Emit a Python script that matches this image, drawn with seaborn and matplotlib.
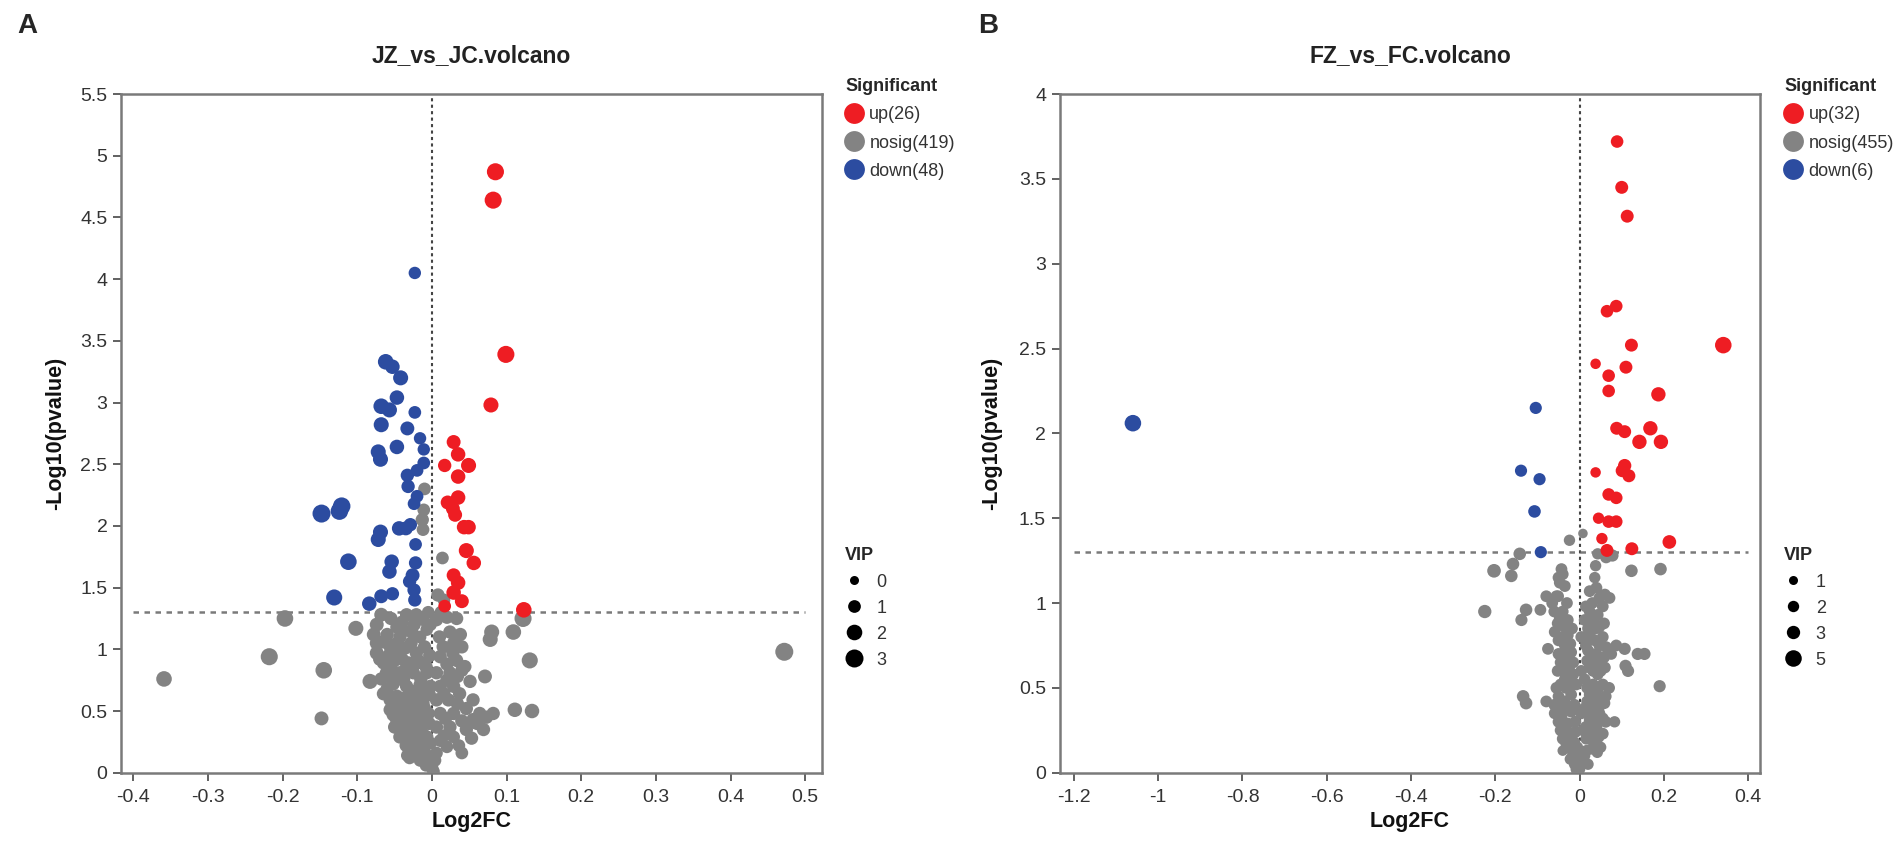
import numpy as np
import pandas as pd
import matplotlib
matplotlib.use("Agg")
import matplotlib.pyplot as plt
from matplotlib.lines import Line2D
from matplotlib.ticker import FuncFormatter
import seaborn as sns

sns.set_theme(style="white")
plt.rcParams["font.family"] = ["Liberation Sans", "DejaVu Sans"]

RED = "#EE1D23"
GREY = "#838383"
BLUE = "#2C4CA0"

# ---------------- panel A : JZ_vs_JC  (log2FC, -log10 p, VIP) ----------------
a_up = [
    (0.085, 4.87, 2.6), (0.082, 4.64, 2.6), (0.099, 3.39, 2.6), (0.079, 2.98, 1.8),
    (0.029, 2.68, 1.4), (0.035, 2.58, 1.6), (0.017, 2.49, 1.2), (0.049, 2.49, 1.8),
    (0.035, 2.40, 1.6), (0.035, 2.23, 1.6), (0.021, 2.19, 1.4), (0.028, 2.14, 1.4),
    (0.031, 2.09, 1.4), (0.043, 1.99, 1.6), (0.049, 1.99, 1.6), (0.046, 1.80, 1.8),
    (0.056, 1.70, 1.6), (0.029, 1.60, 1.4), (0.035, 1.54, 1.6), (0.029, 1.46, 1.6),
    (0.040, 1.39, 1.4), (0.017, 1.35, 1.0), (0.123, 1.32, 2.0),
]
a_down = [
    (-0.023, 4.05, 0.9), (-0.062, 3.33, 2.0), (-0.053, 3.29, 1.6), (-0.042, 3.20, 1.8),
    (-0.047, 3.04, 1.6), (-0.068, 2.97, 2.0), (-0.057, 2.94, 1.8), (-0.023, 2.92, 1.0),
    (-0.068, 2.82, 1.8), (-0.033, 2.79, 1.4), (-0.016, 2.71, 0.9), (-0.047, 2.64, 1.6),
    (-0.011, 2.62, 0.9), (-0.072, 2.60, 1.8), (-0.069, 2.54, 1.8), (-0.011, 2.51, 1.0),
    (-0.020, 2.45, 1.0), (-0.033, 2.41, 1.2), (-0.032, 2.32, 1.2), (-0.020, 2.24, 1.0),
    (-0.024, 2.18, 1.0), (-0.148, 2.10, 3.0), (-0.121, 2.16, 2.8), (-0.124, 2.12, 2.8),
    (-0.044, 1.98, 1.6), (-0.035, 1.98, 1.4), (-0.029, 2.01, 1.2), (-0.069, 1.95, 1.8),
    (-0.072, 1.89, 1.8), (-0.022, 1.85, 1.0), (-0.112, 1.71, 2.4), (-0.054, 1.71, 1.6),
    (-0.057, 1.63, 1.6), (-0.022, 1.70, 1.2), (-0.026, 1.60, 1.4), (-0.131, 1.42, 2.2),
    (-0.068, 1.43, 1.4), (-0.053, 1.45, 1.2), (-0.084, 1.37, 1.6), (-0.024, 1.48, 1.2),
    (-0.023, 1.40, 1.2), (-0.030, 1.55, 1.2),
]
a_nosig = [
    # scattered points
    (-0.359, 0.76, 2.0), (-0.218, 0.94, 2.6), (-0.197, 1.25, 2.4), (-0.148, 0.44, 1.4),
    (-0.145, 0.83, 2.4), (-0.102, 1.17, 1.8), (-0.083, 0.74, 1.8), (0.472, 0.98, 3.5),
    (0.122, 1.25, 2.6), (0.109, 1.14, 2.0), (0.080, 1.14, 1.8), (0.078, 1.08, 1.8),
    (0.131, 0.91, 2.2), (0.071, 0.78, 1.4), (0.111, 0.51, 1.6), (0.134, 0.50, 1.6),
    (-0.010, 2.30, 1.0), (-0.011, 2.13, 1.0), (-0.013, 2.05, 1.2), (-0.012, 1.97, 1.0),
    (0.014, 1.74, 1.0), (0.008, 1.44, 1.2), (0.016, 1.40, 1.0), (-0.033, 0.14, 1.0),
    (0.040, 0.16, 1.0),
    # main cloud, left of zero
    (-0.074, 1.20, 1.4), (-0.047, 1.18, 1.2), (-0.034, 1.28, 1.2), (-0.021, 1.28, 1.2),
    (-0.012, 1.24, 1.0), (-0.027, 1.14, 1.2), (-0.043, 1.10, 1.2), (-0.016, 1.10, 1.0),
    (-0.007, 1.16, 1.0), (-0.074, 1.05, 1.4), (-0.056, 1.02, 1.2), (-0.036, 1.01, 1.2),
    (-0.021, 0.97, 1.2), (-0.074, 0.97, 1.4), (-0.065, 0.89, 1.2), (-0.050, 0.91, 1.2),
    (-0.032, 0.89, 1.2), (-0.014, 0.89, 1.2), (-0.061, 0.81, 1.2), (-0.043, 0.81, 1.2),
    (-0.025, 0.81, 1.2), (-0.007, 0.81, 1.2), (-0.052, 0.72, 1.2), (-0.034, 0.70, 1.2),
    (-0.016, 0.71, 1.2), (-0.065, 0.64, 1.2), (-0.047, 0.62, 1.2), (-0.027, 0.59, 1.2),
    (-0.009, 0.62, 1.2), (-0.056, 0.51, 1.2), (-0.038, 0.48, 1.2), (-0.021, 0.51, 1.2),
    (-0.005, 0.48, 1.2), (-0.050, 0.37, 1.2), (-0.032, 0.35, 1.2), (-0.014, 0.37, 1.2),
    (-0.043, 0.29, 1.2), (-0.025, 0.26, 1.2), (-0.007, 0.29, 1.2), (-0.023, 0.18, 1.0),
    (-0.009, 0.16, 1.0), (-0.016, 0.10, 1.0), (-0.003, 0.08, 1.0), (0.000, 0.04, 1.0),
    (0.002, 0.01, 1.0), (-0.060, 1.12, 1.2), (-0.040, 1.22, 1.2), (-0.005, 1.30, 1.0),
    (-0.028, 1.05, 1.2), (-0.010, 1.02, 1.2), (-0.045, 0.96, 1.2), (-0.020, 0.92, 1.2),
    (-0.055, 0.86, 1.2), (-0.035, 0.84, 1.2), (-0.015, 0.76, 1.2), (-0.045, 0.76, 1.2),
    (-0.060, 0.68, 1.2), (-0.030, 0.65, 1.2), (-0.012, 0.56, 1.2), (-0.045, 0.55, 1.2),
    (-0.030, 0.42, 1.2), (-0.015, 0.44, 1.2), (-0.048, 0.44, 1.2), (-0.035, 0.22, 1.0),
    (-0.012, 0.22, 1.0), (-0.030, 0.12, 1.0), (-0.006, 0.12, 1.0), (-0.020, 0.32, 1.2),
    (-0.040, 0.60, 1.2), (-0.002, 0.70, 1.2), (-0.003, 0.95, 1.2), (-0.068, 1.28, 1.4),
    (-0.055, 1.25, 1.2), (-0.078, 1.12, 1.4), (-0.066, 1.06, 1.2), (-0.050, 1.04, 1.2),
    (-0.038, 1.15, 1.2), (-0.024, 1.20, 1.2), (-0.002, 1.20, 1.0), (-0.070, 0.92, 1.2),
    (-0.058, 0.95, 1.2), (-0.040, 0.92, 1.2), (-0.026, 0.86, 1.2), (-0.008, 0.86, 1.2),
    (-0.068, 0.76, 1.2), (-0.056, 0.78, 1.2), (-0.038, 0.76, 1.2), (-0.022, 0.66, 1.2),
    (-0.004, 0.64, 1.2), (-0.056, 0.59, 1.2), (-0.034, 0.56, 1.2), (-0.018, 0.58, 1.2),
    (-0.052, 0.47, 1.2), (-0.028, 0.48, 1.2), (-0.010, 0.52, 1.2), (-0.040, 0.40, 1.2),
    (-0.022, 0.40, 1.2), (-0.004, 0.40, 1.2), (-0.037, 0.33, 1.2), (-0.012, 0.31, 1.2),
    (-0.030, 0.27, 1.2), (-0.016, 0.26, 1.2), (-0.002, 0.24, 1.0), (-0.028, 0.19, 1.0),
    (-0.018, 0.14, 1.0), (-0.008, 0.06, 1.0),
    # main cloud, right of zero
    (0.006, 1.24, 1.2), (0.020, 1.26, 1.2), (0.033, 1.25, 1.2), (0.015, 1.02, 1.2),
    (0.029, 1.05, 1.2), (0.040, 1.02, 1.2), (0.011, 0.94, 1.2), (0.033, 0.91, 1.2),
    (0.044, 0.86, 1.2), (0.006, 0.81, 1.2), (0.024, 0.81, 1.2), (0.040, 0.83, 1.2),
    (0.011, 0.70, 1.2), (0.029, 0.70, 1.2), (0.051, 0.74, 1.2), (0.006, 0.59, 1.2),
    (0.022, 0.59, 1.2), (0.037, 0.64, 1.2), (0.011, 0.48, 1.2), (0.029, 0.48, 1.2),
    (0.006, 0.37, 1.2), (0.024, 0.37, 1.2), (0.011, 0.26, 1.0), (0.029, 0.29, 1.0),
    (0.006, 0.16, 1.0), (0.020, 0.21, 1.0), (0.055, 0.43, 1.2), (0.069, 0.35, 1.2),
    (0.082, 0.48, 1.2), (0.064, 0.48, 1.2), (0.073, 0.45, 1.2), (0.053, 0.28, 1.2),
    (0.055, 0.59, 1.2), (0.046, 0.52, 1.2), (0.004, 0.10, 1.0), (0.016, 0.30, 1.0),
    (0.018, 0.44, 1.2), (0.016, 0.64, 1.2), (0.034, 0.56, 1.2), (0.020, 0.75, 1.2),
    (0.034, 0.78, 1.2), (0.020, 0.88, 1.2), (0.028, 0.97, 1.2), (0.010, 1.10, 1.2),
    (0.024, 1.14, 1.2), (0.038, 1.12, 1.2), (0.012, 1.30, 1.0), (0.040, 0.42, 1.2),
    (0.046, 0.35, 1.2), (0.036, 0.22, 1.0), (0.060, 0.40, 1.2),
]
a_labels = ["up(26)", "nosig(419)", "down(48)"]
a_vip_levels = [0, 1, 2, 3]
a_xticks = [-0.4, -0.3, -0.2, -0.1, 0, 0.1, 0.2, 0.3, 0.4, 0.5]
a_yticks = [0, 0.5, 1, 1.5, 2, 2.5, 3, 3.5, 4, 4.5, 5, 5.5]

# ---------------- panel B : FZ_vs_FC ----------------
b_up = [
    (0.089, 3.72, 2.6), (0.100, 3.45, 2.8), (0.113, 3.28, 2.8), (0.065, 2.72, 2.6),
    (0.087, 2.75, 2.6), (0.123, 2.52, 2.8), (0.341, 2.52, 5.2), (0.038, 2.41, 1.6),
    (0.110, 2.39, 2.8), (0.069, 2.34, 2.6), (0.069, 2.25, 2.6), (0.187, 2.23, 3.6),
    (0.088, 2.03, 2.8), (0.107, 2.01, 2.8), (0.168, 2.03, 3.6), (0.142, 1.95, 3.6),
    (0.193, 1.95, 3.6), (0.107, 1.81, 3.0), (0.101, 1.78, 2.8), (0.117, 1.75, 2.8),
    (0.038, 1.77, 1.6), (0.069, 1.64, 2.6), (0.087, 1.62, 2.6), (0.045, 1.50, 2.0),
    (0.069, 1.48, 2.6), (0.087, 1.48, 2.6), (0.053, 1.38, 2.0), (0.213, 1.36, 3.2),
    (0.124, 1.32, 2.8), (0.065, 1.31, 2.8),
]
b_down = [
    (-1.060, 2.06, 6.0), (-0.104, 2.15, 2.4), (-0.139, 1.78, 2.4), (-0.095, 1.73, 2.4),
    (-0.107, 1.54, 2.6), (-0.092, 1.30, 2.4),
]
b_nosig = [
    # scattered points
    (-0.225, 0.95, 3.0), (-0.203, 1.19, 3.2), (-0.162, 1.16, 2.6), (-0.158, 1.23, 2.6),
    (-0.142, 1.29, 2.6), (-0.138, 0.90, 2.4), (-0.127, 0.96, 2.6), (-0.134, 0.45, 2.6),
    (-0.127, 0.41, 2.6), (-0.093, 0.96, 2.2), (-0.079, 0.42, 2.2), (-0.075, 0.73, 2.2),
    (-0.024, 1.37, 2.0), (0.008, 1.41, 1.2), (-0.040, 0.13, 1.6), (0.038, 1.22, 2.0),
    (0.036, 1.15, 2.0), (0.043, 1.29, 2.0), (0.063, 1.27, 2.4), (0.078, 1.28, 2.4),
    (0.123, 1.19, 2.6), (0.192, 1.20, 2.6), (0.107, 0.73, 2.4), (0.138, 0.70, 2.4),
    (0.154, 0.70, 2.4), (0.109, 0.63, 2.4), (0.115, 0.60, 2.4), (0.190, 0.51, 2.4),
    (0.083, 0.30, 2.0),
    # main cloud, left of zero
    (-0.043, 1.20, 2.2), (-0.040, 1.17, 2.2), (-0.047, 1.12, 2.2), (-0.051, 1.04, 2.2),
    (-0.079, 1.04, 2.2), (-0.055, 1.04, 2.2), (-0.040, 0.95, 2.2), (-0.047, 0.91, 2.2),
    (-0.028, 0.90, 2.2), (-0.036, 0.86, 2.2), (-0.059, 0.83, 2.2), (-0.028, 0.81, 2.2),
    (-0.032, 0.70, 2.2), (-0.020, 0.71, 2.2), (-0.040, 0.60, 2.2), (-0.024, 0.56, 2.2),
    (-0.032, 0.50, 2.2), (-0.036, 0.42, 2.2), (-0.020, 0.46, 2.2), (-0.059, 0.35, 2.2),
    (-0.043, 0.33, 2.2), (-0.028, 0.29, 2.2), (-0.020, 0.23, 2.2), (-0.032, 0.17, 2.0),
    (-0.016, 0.11, 2.0), (-0.012, 0.05, 2.0), (-0.045, 0.65, 2.2), (-0.025, 0.62, 2.2),
    (-0.045, 0.52, 2.2), (-0.030, 0.38, 2.2), (-0.045, 0.25, 2.2), (-0.010, 0.30, 2.2),
    (-0.012, 0.18, 2.0), (-0.035, 0.75, 2.2), (-0.018, 0.85, 2.2), (-0.060, 0.95, 2.2),
    (-0.012, 0.40, 2.2), (-0.008, 0.52, 2.2), (-0.050, 0.78, 2.2), (-0.050, 1.15, 2.2),
    (-0.035, 1.10, 2.2), (-0.065, 1.00, 2.2), (-0.030, 1.00, 2.2), (-0.052, 0.88, 2.2),
    (-0.040, 0.80, 2.2), (-0.022, 0.76, 2.2), (-0.050, 0.70, 2.2), (-0.030, 0.66, 2.2),
    (-0.015, 0.65, 2.2), (-0.052, 0.60, 2.2), (-0.035, 0.55, 2.2), (-0.015, 0.58, 2.2),
    (-0.050, 0.45, 2.2), (-0.025, 0.50, 2.2), (-0.040, 0.38, 2.2), (-0.020, 0.36, 2.2),
    (-0.050, 0.30, 2.2), (-0.035, 0.25, 2.2), (-0.025, 0.20, 2.2), (-0.040, 0.20, 2.2),
    (-0.010, 0.24, 2.2), (-0.020, 0.14, 2.0), (-0.005, 0.15, 2.0), (-0.022, 0.08, 2.0),
    (-0.005, 0.08, 2.0), (-0.008, 0.02, 2.0), (-0.060, 0.40, 2.2), (-0.055, 0.50, 2.2),
    # main cloud, right of zero
    (0.024, 1.07, 2.2), (0.040, 1.09, 2.2), (0.047, 1.03, 2.2), (0.071, 1.03, 2.2),
    (0.024, 0.95, 2.2), (0.043, 0.93, 2.2), (0.032, 0.90, 2.2), (0.047, 0.86, 2.2),
    (0.024, 0.81, 2.2), (0.036, 0.78, 2.2), (0.047, 0.75, 2.2), (0.063, 0.74, 2.2),
    (0.087, 0.75, 2.2), (0.028, 0.70, 2.2), (0.047, 0.66, 2.2), (0.024, 0.62, 2.2),
    (0.043, 0.58, 2.2), (0.055, 0.52, 2.2), (0.032, 0.52, 2.2), (0.024, 0.46, 2.2),
    (0.047, 0.44, 2.2), (0.059, 0.41, 2.2), (0.032, 0.38, 2.2), (0.047, 0.35, 2.2),
    (0.024, 0.31, 2.2), (0.040, 0.27, 2.2), (0.055, 0.23, 2.2), (0.024, 0.21, 2.2),
    (0.036, 0.17, 2.0), (0.016, 0.13, 2.0), (0.008, 0.07, 2.0), (0.000, 0.02, 2.0),
    (0.012, 0.90, 2.2), (0.015, 0.75, 2.2), (0.012, 0.55, 2.2), (0.012, 0.38, 2.2),
    (0.060, 0.62, 2.2), (0.070, 0.50, 2.2), (0.035, 0.65, 2.2), (0.008, 0.25, 2.2),
    (0.062, 0.30, 2.2), (0.050, 0.15, 2.0), (0.015, 0.98, 2.2), (0.058, 0.88, 2.2),
    (0.035, 0.48, 2.2), (0.030, 1.00, 2.2), (0.055, 0.98, 2.2), (0.060, 1.05, 2.2),
    (0.020, 0.85, 2.2), (0.038, 0.85, 2.2), (0.055, 0.80, 2.2), (0.020, 0.72, 2.2),
    (0.040, 0.70, 2.2), (0.058, 0.68, 2.2), (0.075, 0.70, 2.2), (0.018, 0.66, 2.2),
    (0.032, 0.60, 2.2), (0.050, 0.60, 2.2), (0.018, 0.50, 2.2), (0.045, 0.50, 2.2),
    (0.062, 0.45, 2.2), (0.018, 0.42, 2.2), (0.035, 0.42, 2.2), (0.050, 0.40, 2.2),
    (0.018, 0.35, 2.2), (0.038, 0.32, 2.2), (0.055, 0.32, 2.2), (0.015, 0.27, 2.2),
    (0.030, 0.24, 2.2), (0.045, 0.21, 2.2), (0.016, 0.20, 2.2), (0.028, 0.14, 2.0),
    (0.042, 0.12, 2.0), (0.012, 0.10, 2.0), (0.020, 0.05, 2.0), (0.005, 0.12, 2.0),
    (0.004, 0.35, 2.2), (0.004, 0.60, 2.2), (0.004, 0.80, 2.2),
]
b_labels = ["up(32)", "nosig(455)", "down(6)"]
b_vip_levels = [1, 2, 3, 5]
b_xticks = [-1.2, -1, -0.8, -0.6, -0.4, -0.2, 0, 0.2, 0.4]
b_yticks = [0, 0.5, 1, 1.5, 2, 2.5, 3, 3.5, 4]

P_THRESH = 1.3   # -log10(0.05)


def frame(nosig, down, up):
    rows = []
    for name, pts in [("nosig", nosig), ("down", down), ("up", up)]:
        for x, y, v in pts:
            rows.append((x, y, v, name))
    return pd.DataFrame(rows, columns=["log2fc", "logp", "vip", "sig"])


def size_of(v, sizes, norm):
    return sizes[0] + (v - norm[0]) / (norm[1] - norm[0]) * (sizes[1] - sizes[0])


def panel(ax, df, title, xlim, ylim, xticks, yticks, hline_x, sizes, norm, ylab_x):
    sns.scatterplot(data=df, x="log2fc", y="logp", hue="sig",
                    palette={"up": RED, "nosig": GREY, "down": BLUE},
                    size="vip", sizes=sizes, size_norm=norm,
                    linewidth=0, alpha=1, legend=False, ax=ax, zorder=3)
    ax.axvline(0, color="#444444", lw=1.5, ls=(0, (1.5, 1.6)), zorder=2)
    ax.plot(hline_x, [P_THRESH, P_THRESH], color="#7a7a7a", lw=1.8,
            ls=(0, (2.2, 2.2)), zorder=2)
    ax.set_xlim(*xlim)
    ax.set_ylim(*ylim)
    ax.set_xticks(xticks)
    ax.set_yticks(yticks)
    fmt = FuncFormatter(lambda v, p: f"{v:g}")
    ax.xaxis.set_major_formatter(fmt)
    ax.yaxis.set_major_formatter(fmt)
    ax.tick_params(axis="both", which="major", direction="out", length=6, width=1.3,
                   color="#555555", labelsize=14, labelcolor="#333333",
                   bottom=True, left=True, pad=4)
    ax.tick_params(axis="x", pad=6)
    for s in ax.spines.values():
        s.set_color("#7a7a7a")
        s.set_linewidth(1.8)
    ax.set_xlabel("Log2FC", fontsize=15.5, fontweight="bold", color="#111111")
    ax.set_ylabel("-Log10(pvalue)", fontsize=15.5, fontweight="bold", color="#111111")
    ax.xaxis.set_label_coords(0.5, -0.057)
    ax.yaxis.set_label_coords(ylab_x, 0.5)
    ax.text(0.5, 1.057, title, transform=ax.transAxes, ha="center", va="center",
            fontsize=16.5, fontweight="bold", color="#222222")


def legends(fig, x, labels, vip_levels, sizes, norm):
    handles = [Line2D([], [], marker="o", ls="", color=c, markersize=15,
                      markeredgewidth=0) for c in [RED, GREY, BLUE]]
    leg = fig.legend(handles, labels, loc="upper left", bbox_to_anchor=(x, 0.907),
                     frameon=False, title="Significant", fontsize=13,
                     title_fontproperties={"weight": "bold", "size": 13},
                     handlelength=1.0, handletextpad=0.35, labelspacing=0.62,
                     borderpad=0, borderaxespad=0, alignment="left")
    for t in leg.get_texts():
        t.set_color("#333333")
    vh = [Line2D([], [], marker="o", ls="", color="black", markeredgewidth=0,
                 markersize=np.sqrt(size_of(v, sizes, norm))) for v in vip_levels]
    leg2 = fig.legend(vh, [str(v) for v in vip_levels], loc="upper left",
                      bbox_to_anchor=(x, 0.349), frameon=False, title="VIP", fontsize=13,
                      title_fontproperties={"weight": "bold", "size": 13},
                      handlelength=1.0, handletextpad=0.75, labelspacing=0.5,
                      borderpad=0, borderaxespad=0, alignment="left")
    for t in leg2.get_texts():
        t.set_color("#333333")


fig = plt.figure(figsize=(19.01, 8.41), dpi=100)
axA = fig.add_axes([0.0639, 0.0812, 0.3683, 0.807])
axB = fig.add_axes([0.5576, 0.0812, 0.3682, 0.807])

a_sizes, a_norm = (42, 168), (0, 3)
b_sizes, b_norm = (42, 142), (1, 5)

panel(axA, frame(a_nosig, a_down, a_up), "JZ_vs_JC.volcano", (-0.416, 0.522), (0, 5.5),
      a_xticks, a_yticks, [-0.4, 0.5], a_sizes, a_norm, -0.079)
panel(axB, frame(b_nosig, b_down, b_up), "FZ_vs_FC.volcano", (-1.233, 0.428), (0, 4),
      b_xticks, b_yticks, [-1.2, 0.4], b_sizes, b_norm, -0.083)

legends(fig, 0.4445, a_labels, a_vip_levels, a_sizes, a_norm)
legends(fig, 0.9385, b_labels, b_vip_levels, b_sizes, b_norm)

fig.text(0.009, 0.985, "A", fontsize=20, fontweight="bold", ha="left", va="top")
fig.text(0.5145, 0.985, "B", fontsize=20, fontweight="bold", ha="left", va="top")

fig.savefig("out.png", dpi=100)
